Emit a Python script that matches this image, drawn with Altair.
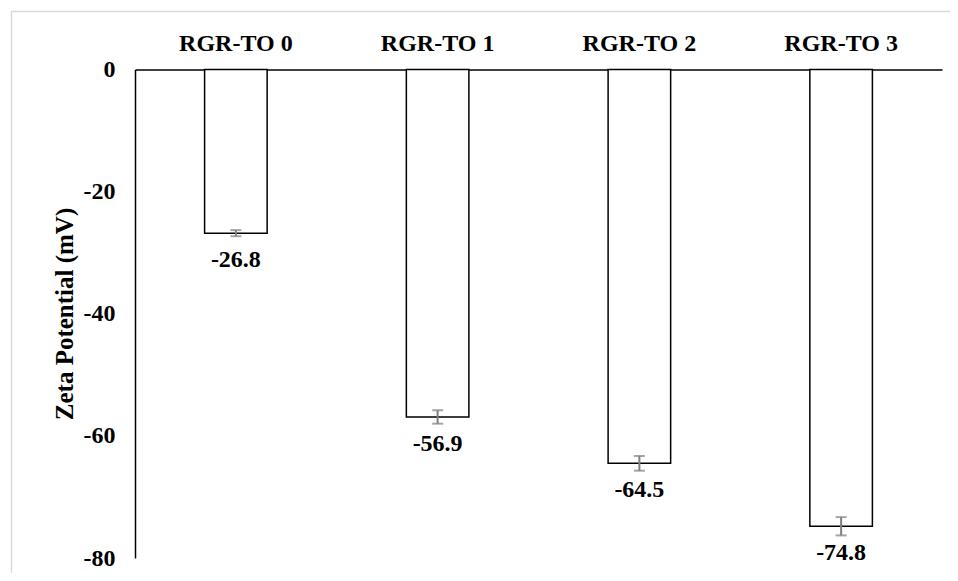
import altair as alt
import pandas as pd

categories = ["RGR-TO 0", "RGR-TO 1", "RGR-TO 2", "RGR-TO 3"]
values = [-26.8, -56.9, -64.5, -74.8]
errors = [0.5, 1.1, 1.2, 1.5]
value_labels = ["-26.8", "-56.9", "-64.5", "-74.8"]
y_ticks = [0, -20, -40, -60, -80]

df = pd.DataFrame({
    "cat": categories,
    "val": values,
    "zero": [0] * len(values),
    "lo": [v - e for v, e in zip(values, errors)],
    "hi": [v + e for v, e in zip(values, errors)],
    "lab": value_labels,
})

FONT = "'Liberation Serif', 'Times New Roman', Tinos, 'DejaVu Serif', serif"
YTITLE = "Zeta Potential (mV)"

x_enc = alt.X(
    "cat:N", sort=categories,
    scale=alt.Scale(paddingInner=0, paddingOuter=0),
    axis=alt.Axis(
        orient="top", title=None, labelAngle=0, ticks=False, tickSize=0,
        domainColor="black", domainWidth=1.5,
        labelFont=FONT, labelFontSize=24, labelFontWeight="bold", labelColor="black",
        labelBaseline="alphabetic", labelPadding=19,
    ),
)

y_scale = alt.Scale(domain=[-80, 0], nice=False, zero=False)
y_axis = alt.Axis(
    values=y_ticks, grid=False, ticks=False, tickSize=0,
    domainColor="black", domainWidth=1.5,
    labelFont=FONT, labelFontSize=24, labelFontWeight="bold", labelColor="black",
    labelPadding=20, labelExpr="'' + datum.value",
    titleFont=FONT, titleFontSize=25, titleFontWeight="bold", titleColor="black",
    titleX=-70.5, titleY=244, titleBaseline="middle", titleAngle=270,
)

base = alt.Chart(df).encode(x=x_enc)

bars = base.mark_bar(
    fill="white", stroke="black", strokeWidth=1.5, width={"band": 0.31}
).encode(
    y=alt.Y("val:Q", scale=y_scale, axis=y_axis, title=YTITLE),
    y2="zero:Q",
)

err = base.mark_rule(color="#7f7f7f", strokeWidth=2).encode(
    y=alt.Y("lo:Q", scale=y_scale, axis=y_axis, title=YTITLE),
    y2="hi:Q",
)
cap_lo = base.mark_tick(color="#7f7f7f", size=11, thickness=2).encode(
    y=alt.Y("lo:Q", scale=y_scale, axis=y_axis, title=YTITLE),
)
cap_hi = base.mark_tick(color="#7f7f7f", size=11, thickness=2).encode(
    y=alt.Y("hi:Q", scale=y_scale, axis=y_axis, title=YTITLE),
)

texts = base.mark_text(
    font=FONT, fontSize=24, fontWeight="bold", color="black",
    baseline="alphabetic", dy=34,
).encode(
    y=alt.Y("val:Q", scale=y_scale, axis=y_axis, title=YTITLE),
    text="lab:N",
)

frame_df = pd.DataFrame({"k": [1]})
frame = alt.Chart(frame_df).mark_rect(
    filled=False, stroke="#d9d9d9", strokeWidth=1.5
).encode(
    x=alt.value(-123.5), x2=alt.value(1500),
    y=alt.value(-58), y2=alt.value(1500),
)

chart = alt.layer(frame, bars, err, cap_lo, cap_hi, texts).properties(
    width=807,
    height=488.5,
    autosize=alt.AutoSizeParams(type="none"),
    padding={"left": 127, "top": 61.5, "right": 8, "bottom": 15},
    background="white",
).configure_view(stroke=None)

chart.save("out.html", embed_options={"renderer": "svg", "actions": False})
